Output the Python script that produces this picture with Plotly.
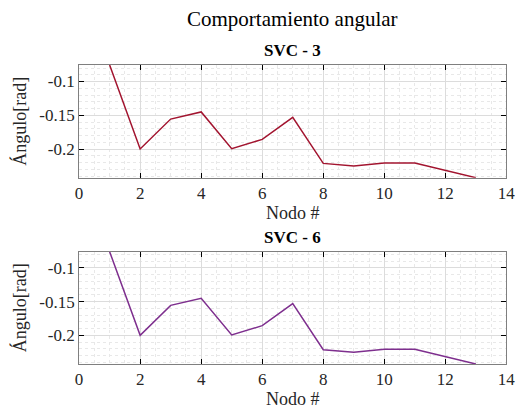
import plotly.graph_objects as go

nodes = list(range(1, 14))
ang_svc3 = [-0.0755, -0.2000, -0.1556, -0.1450, -0.1995, -0.1857, -0.1531,
            -0.2213, -0.2250, -0.2208, -0.2208, -0.2320, -0.2425]
ang_svc6 = [-0.0760, -0.2000, -0.1556, -0.1450, -0.1995, -0.1857, -0.1530,
            -0.2213, -0.2250, -0.2208, -0.2208, -0.2320, -0.2425]
titles = ["SVC - 3", "SVC - 6"]
colors = ["#A2142F", "#7E2F8E"]
x_ticks = list(range(0, 15, 2))

W, H = 530, 409
FONT = "Liberation Serif"

fig = go.Figure()

def py(p):
    return 1 - p / H

panels = [(65, 177.7), (251.7, 364)]
xdom = [77 / W, 515 / W]

for i, (series, (top, bot)) in enumerate(zip([ang_svc3, ang_svc6], panels)):
    ax = "" if i == 0 else str(i + 1)
    fig.add_trace(go.Scatter(x=nodes, y=series, mode="lines",
                             line=dict(color=colors[i], width=1.5),
                             xaxis="x" + ax, yaxis="y" + ax, showlegend=False,
                             cliponaxis=True))
    common = dict(showline=True, linecolor="#7f7f7f", linewidth=1, mirror="ticks",
                  ticks="inside", ticklen=5, tickcolor="#000000", tickwidth=1,
                  showgrid=True, gridcolor="#dcdcdc", gridwidth=1, zeroline=False,
                  tickfont=dict(family=FONT, size=17, color="#262626"))
    fig.layout["xaxis" + ax] = dict(
        domain=xdom, anchor="y" + ax, range=[0, 14], tickvals=x_ticks,
        title=dict(text="Nodo #", font=dict(family=FONT, size=18, color="#262626"), standoff=3),
        minor=dict(dtick=0.5, showgrid=True, gridcolor="#e8e8e8", griddash="dot", ticks=""),
        **common)
    fig.layout["yaxis" + ax] = dict(
        domain=[py(bot), py(top)], anchor="x" + ax,
        range=[min(series), max(series)], tickvals=[-0.2, -0.15, -0.1],
        ticktext=["-0.2", "-0.15", "-0.1"],
        title=dict(text="Ángulo[rad]", font=dict(family=FONT, size=18, color="#262626"), standoff=7),
        minor=dict(dtick=0.01, tick0=0, showgrid=True, gridcolor="#e8e8e8", griddash="dot", ticks=""),
        **common)
    fig.add_annotation(text="<b>" + titles[i] + "</b>", xref="paper", yref="paper",
                       x=(xdom[0] + xdom[1]) / 2, y=py(top - 3), xanchor="center",
                       yanchor="bottom", showarrow=False,
                       font=dict(family=FONT, size=17, color="#000000"))

fig.add_annotation(text="Comportamiento angular", xref="paper", yref="paper",
                   x=(xdom[0] + xdom[1]) / 2, y=py(5), xanchor="center", yanchor="top",
                   showarrow=False, font=dict(family=FONT, size=21, color="#000000"))

fig.update_layout(width=W, height=H, margin=dict(l=0, r=0, t=0, b=0),
                  paper_bgcolor="white", plot_bgcolor="white")

fig.write_html("out.html")
